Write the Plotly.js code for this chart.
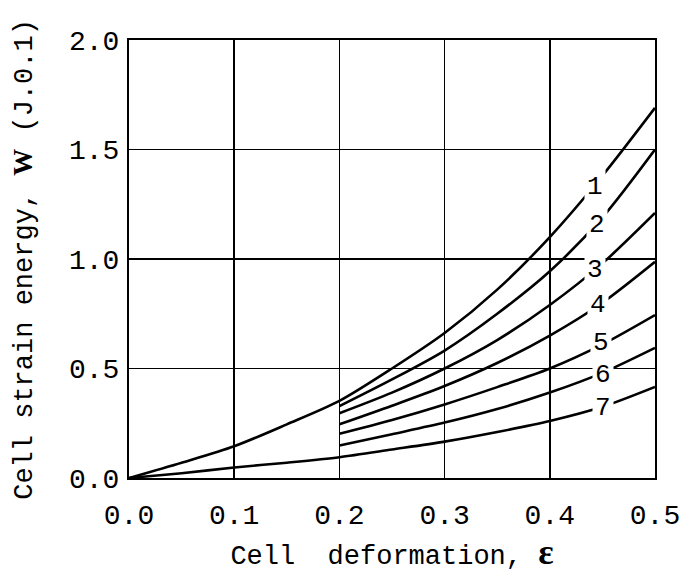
<!DOCTYPE html>
<html>
<head>
<meta charset="utf-8">
<script src="https://cdn.plot.ly/plotly-3.0.1.min.js"></script>
<style>html,body{margin:0;padding:0;background:#fff;}#chart{width:682px;height:587px;}</style>
</head>
<body>
<div id="chart"></div>
<script>
// Shared branch (curve 1 top / curve 7 bottom) from 0 to 0.2, then fan of curves 1..7
const xFull = [0, 0.05, 0.1, 0.15, 0.2, 0.25, 0.3, 0.35, 0.4, 0.45, 0.5];
const xFan  = [0.2, 0.25, 0.3, 0.35, 0.4, 0.45, 0.5];
const curve1 = [0, 0.07, 0.145, 0.245, 0.352, 0.50, 0.662, 0.86, 1.10, 1.38, 1.69];
const curve2 = [0.328, 0.45, 0.582, 0.75, 0.944, 1.19, 1.50];
const curve3 = [0.296, 0.39, 0.50, 0.63, 0.79, 0.98, 1.21];
const curve4 = [0.245, 0.33, 0.42, 0.525, 0.65, 0.80, 0.987];
const curve5 = [0.202, 0.265, 0.336, 0.415, 0.50, 0.61, 0.744];
const curve6 = [0.148, 0.20, 0.253, 0.315, 0.39, 0.48, 0.594];
const curve7 = [0, 0.022, 0.048, 0.07, 0.095, 0.13, 0.166, 0.21, 0.26, 0.325, 0.416];

const labelText = ["1", "2", "3", "4", "5", "6", "7"];
const labelX = [0.4425, 0.445, 0.4425, 0.446, 0.449, 0.451, 0.451];
const labelY = [1.33, 1.157, 0.952, 0.788, 0.616, 0.472, 0.318];

const xTickVals = [0, 0.1, 0.2, 0.3, 0.4, 0.5];
const yTickVals = [0, 0.5, 1.0, 1.5, 2.0];

const FONT = "Liberation Mono, Courier New, monospace";
const line = {color: "#000", width: 2.6, shape: "spline", smoothing: 0.8};

const series = [
  [xFull, curve1], [xFan, curve2], [xFan, curve3], [xFan, curve4],
  [xFan, curve5], [xFan, curve6], [xFull, curve7]
];
const data = series.map(s => ({
  x: s[0], y: s[1], type: "scatter", mode: "lines", line: line,
  hoverinfo: "skip", showlegend: false
}));

const annotations = labelText.map((t, i) => ({
  x: labelX[i], y: labelY[i], xref: "x", yref: "y", text: t,
  showarrow: false, bgcolor: "#fff", borderpad: 2,
  font: {family: FONT, size: 26, color: "#000"}
}));
annotations.push({
  xref: "paper", yref: "paper", x: -0.2, y: 0.5, xanchor: "center", yanchor: "middle",
  text: "Cell strain energy, <span style='font-family:Liberation Serif'><b>W</b></span> (J.0.1)",
  textangle: -90, showarrow: false,
  font: {family: FONT, size: 27, color: "#000"}
});

const layout = {
  width: 682, height: 587,
  margin: {l: 129, r: 27, t: 40, b: 109},
  paper_bgcolor: "#fff", plot_bgcolor: "#fff",
  font: {family: FONT, size: 28, color: "#000"},
  xaxis: {
    range: [0, 0.5], tickvals: xTickVals, tickformat: ".1f",
    showgrid: true, gridcolor: "#000", gridwidth: 1.7,
    zeroline: false, showline: true, mirror: true, linecolor: "#000", linewidth: 2,
    ticks: "", ticklabelstandoff: 10,
    tickfont: {family: FONT, size: 28, color: "#000"},
    title: {text: "Cell  deformation, <span style='font-family:Liberation Serif;font-size:36px'><b>ε</b></span>", standoff: 12,
            font: {family: FONT, size: 27, color: "#000"}}
  },
  yaxis: {
    range: [0, 2.0], tickvals: yTickVals, tickformat: ".1f",
    showgrid: true, gridcolor: "#000", gridwidth: 1.7,
    zeroline: false, showline: true, mirror: true, linecolor: "#000", linewidth: 2,
    ticks: "", ticklabelstandoff: 2,
    tickfont: {family: FONT, size: 28, color: "#000"}
  },
  annotations: annotations
};

Plotly.newPlot("chart", data, layout, {displayModeBar: false, staticPlot: true});
</script>
</body>
</html>
